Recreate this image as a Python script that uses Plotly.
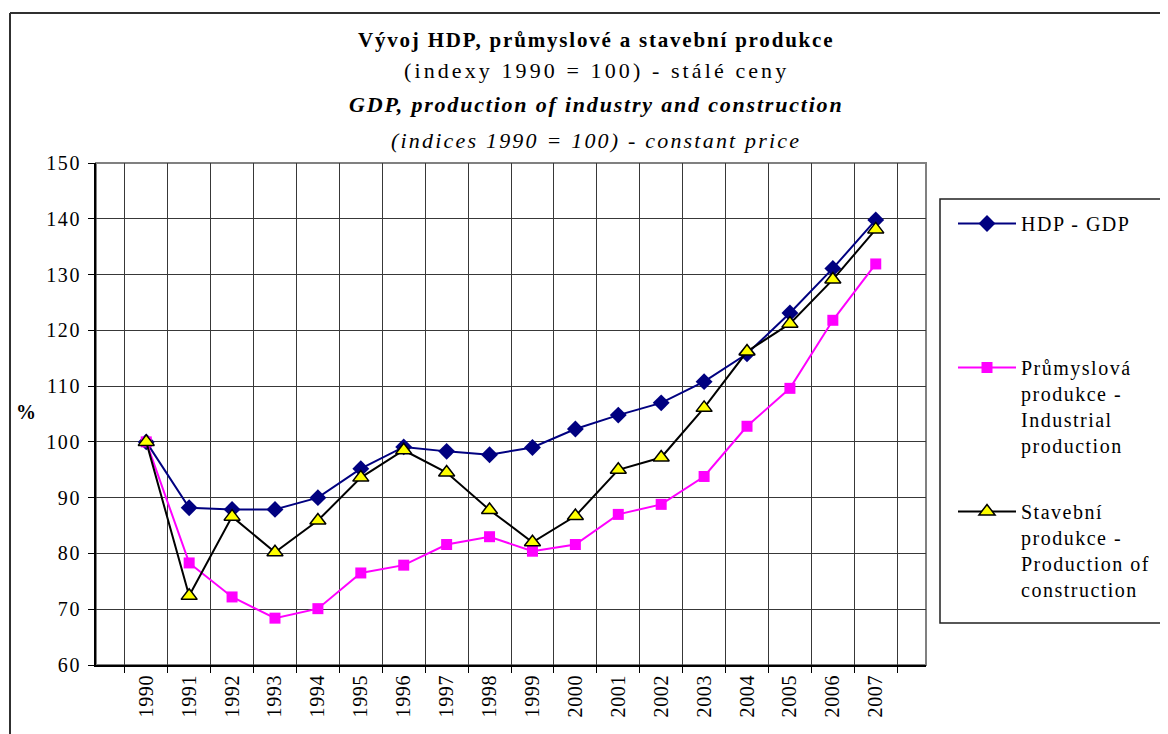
import plotly.graph_objects as go

years = [str(y) for y in range(1990, 2008)]
gdp = [100, 88.2, 87.9, 87.9, 90.0, 95.2, 99.1, 98.3, 97.7, 99.0, 102.3, 104.8, 107.0, 110.8, 115.8, 123.1, 131.1, 139.8]
industry = [100, 78.3, 72.2, 68.4, 70.1, 76.5, 77.9, 81.6, 83.0, 80.4, 81.6, 87.0, 88.8, 93.8, 102.8, 109.6, 121.8, 131.9]
construction = [100, 72.4, 86.6, 80.2, 85.9, 93.6, 98.5, 94.5, 87.8, 82.0, 86.7, 95.0, 97.2, 106.1, 116.2, 121.2, 129.1, 138.1]
y_ticks = list(range(60, 151, 10))

names = ["HDP - GDP<br> <br> <br> ",
         "Průmyslová<br>produkce -<br>Industrial<br>production",
         "Stavební<br>produkce -<br>Production of<br>construction"]

FONT = "Liberation Serif"
OFF = 8  # page offset of the plot div


def sp(text, ls):
    return f'<span style="letter-spacing:{ls}px">{text}</span>'


fig = go.Figure()
fig.add_trace(go.Scatter(
    x=years, y=gdp, mode="lines+markers", name=sp(names[0], 1.5),
    line=dict(color="#000080", width=2),
    marker=dict(symbol="diamond", size=13, color="#000080"),
    legendgroup="a"))
fig.add_trace(go.Scatter(
    x=years, y=industry, mode="lines+markers", name=sp(names[1], 1.5),
    line=dict(color="#FF00FF", width=2),
    marker=dict(symbol="square", size=11, color="#FF00FF"),
    legendgroup="b"))
fig.add_trace(go.Scatter(
    x=years, y=construction, mode="lines+markers", name=sp(names[2], 1.5),
    line=dict(color="#000000", width=2),
    marker=dict(symbol="triangle-up", size=14, color="#FFFF00",
                line=dict(color="#000000", width=1.5)),
    legendgroup="c"))

W, H = 1160, 726
L, T = 96 - OFF, 163 - OFF
pw, ph = 830, 502
R, B = W - L - pw, H - T - ph


def px(xp):
    return (xp - OFF - L) / pw


def py(yp):
    return (H - B - (yp - OFF)) / ph


title_lines = [
    ("<b>Vývoj HDP, průmyslové a stavební produkce</b>", 40, 21, 1.8),
    ("(indexy 1990 = 100) - stálé ceny", 71, 22, 3.1),
    ("<b><i>GDP, production of industry and construction</i></b>", 104, 22, 1.8),
    ("<i>(indices 1990 = 100) - constant price</i>", 140, 22, 2.2),
]
annotations = []
for txt, yy, fs, ls in title_lines:
    annotations.append(dict(text=sp(txt, ls), x=px(596), y=py(yy), xref="paper", yref="paper",
                            xanchor="center", yanchor="middle", showarrow=False,
                            font=dict(family=FONT, size=fs, color="black")))
annotations.append(dict(text="<b>%</b>", x=px(26), y=py(412), xref="paper", yref="paper",
                        xanchor="center", yanchor="middle", showarrow=False,
                        font=dict(family=FONT, size=20, color="black")))

shapes = [
    dict(type="rect", xref="paper", yref="paper", x0=0, y0=0, x1=1, y1=1,
         line=dict(color="#808080", width=2), layer="below"),
    dict(type="line", xref="paper", yref="paper", x0=px(10), x1=px(10), y0=py(13), y1=py(760),
         line=dict(color="#303030", width=2)),
    dict(type="line", xref="paper", yref="paper", x0=px(10), x1=px(1190), y0=py(13), y1=py(13),
         line=dict(color="#303030", width=2)),
    dict(type="rect", xref="paper", yref="paper", x0=px(940), x1=px(1162), y0=py(623), y1=py(199),
         line=dict(color="#202020", width=1.5), fillcolor="rgba(0,0,0,0)"),
]

fig.update_layout(
    width=W, height=H,
    margin=dict(l=L, r=R, t=T, b=B),
    paper_bgcolor="white", plot_bgcolor="white",
    font=dict(family=FONT, size=20, color="black"),
    showlegend=True,
    legend=dict(x=px(953), y=py(204), xanchor="left", yanchor="top",
                borderwidth=0, bgcolor="rgba(0,0,0,0)",
                font=dict(family=FONT, size=20, color="black"),
                valign="top", tracegroupgap=37, itemwidth=58),
    annotations=annotations,
    shapes=shapes,
    xaxis=dict(type="category", tickson="boundaries", showgrid=True, gridcolor="#383838", gridwidth=1,
               ticks="outside", ticklen=6, tickcolor="black", tickangle=-90,
               tickvals=years, ticktext=[sp(y, 0.6) for y in years],
               tickfont=dict(family=FONT, size=20, color="black"),
               showline=True, linecolor="black", linewidth=2, zeroline=False),
    yaxis=dict(range=[60, 150], tickvals=y_ticks, ticktext=[sp(str(v), 1.6) for v in y_ticks],
               showgrid=True, gridcolor="#383838", gridwidth=1,
               ticks="outside", ticklen=6, tickcolor="black", ticklabelstandoff=3,
               tickfont=dict(family=FONT, size=20, color="black"),
               showline=True, linecolor="black", linewidth=2, zeroline=False),
)

fig.write_html("out.html")
